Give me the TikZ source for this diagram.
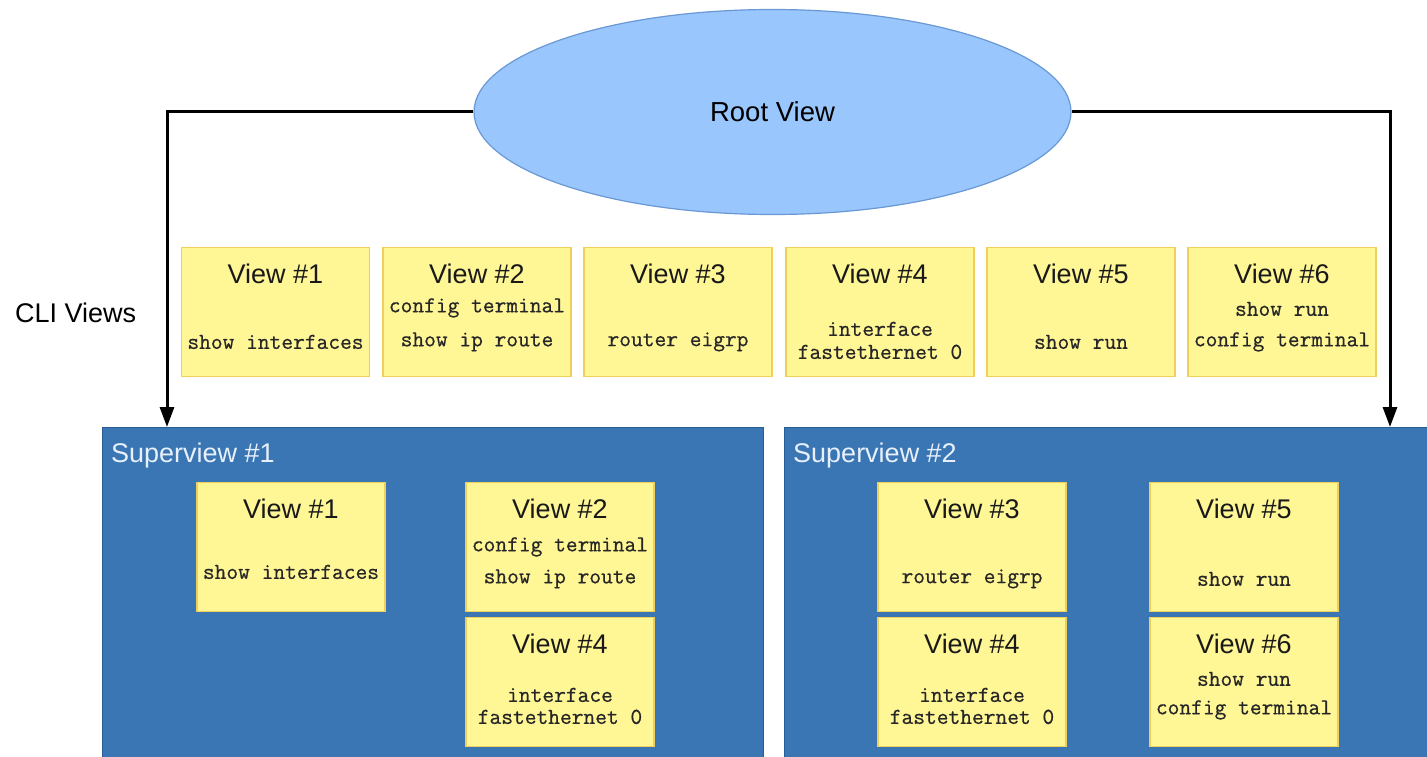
\documentclass[tikz,border=0pt]{standalone}
\usepackage{fontspec}
\setmainfont{Liberation Sans}
\newfontfamily\cmdfont[FakeBold=0.6]{Latin Modern Mono}
\usetikzlibrary{shapes.geometric,arrows.meta,calc}
\definecolor{viewfill}{RGB}{255,246,150}
\definecolor{viewedge}{RGB}{240,208,90}
\definecolor{svfill}{RGB}{58,118,180}
\definecolor{svedge}{RGB}{40,92,148}
\definecolor{rootfill}{RGB}{153,198,252}
\definecolor{rootedge}{RGB}{105,152,212}
\definecolor{svtext}{RGB}{232,240,250}
\tikzset{
  vbox/.style={draw=viewedge, line width=1.2pt, fill=viewfill, minimum width=188pt, minimum height=129pt, inner sep=0pt},
  vtitle/.style={font=\fontsize{27}{30}\selectfont, inner sep=0pt, text=black!90},
  cmd/.style={font=\cmdfont\fontsize{22.8}{25}\selectfont, inner sep=0pt, text=black!85},
  svbox/.style={draw=svedge, line width=1.2pt, fill=svfill, anchor=north west, inner sep=0pt},
  svlabel/.style={font=\fontsize{27}{30}\selectfont, text=svtext, anchor=west, inner sep=0pt},
  link/.style={line width=3pt, -{Triangle[width=14pt,length=20pt]}}
}
\begin{document}
\begin{tikzpicture}[x=1pt,y=-1pt]
\path[use as bounding box] (0,0) rectangle (1427,757);
\clip (0,0) rectangle (1427,757);

% root view
\node[ellipse, draw=rootedge, line width=1.2pt, fill=rootfill, minimum width=597pt, minimum height=205pt, inner sep=0pt,
      font=\fontsize{27.5}{30}\selectfont] (root) at (772.5,112) {Root View};

% superviews
\node[svbox, minimum width=661pt, minimum height=345pt] (sv1) at (102,427) {};
\node[svbox, minimum width=660pt, minimum height=345pt] (sv2) at (784,427) {};
\node[svlabel] (sv1l) at ($(sv1.north west)+(9,29)$) {Superview \#1};
\node[svlabel] (sv2l) at ($(sv2.north west)+(9,29)$) {Superview \#2};

% connectors from the root view down to the superviews
\coordinate (in1) at (167,427);
\coordinate (in2) at (1390,427);
\draw[link] (root.west) -| (in1);
\draw[link] (root.east) -| (in2);

% CLI views row
\node[font=\fontsize{27}{30}\selectfont, anchor=west, inner sep=0pt] (cli) at (15,313) {CLI Views};

\node[vbox] (t1) at (275.5,312) {};
\node[vtitle] (t1t) at ($(t1.north)+(0,27)$) {View \#1};
\node[cmd] (t1a) at ($(t1.north)+(0,95)$) {show interfaces};

\node[vbox] (t2) at (477,312) {};
\node[vtitle] (t2t) at ($(t2.north)+(0,27)$) {View \#2};
\node[cmd] (t2a) at ($(t2.north)+(0,61)$) {config terminal};
\node[cmd] (t2b) at ($(t2.north)+(0,95)$) {show ip route};

\node[vbox] (t3) at (678,312) {};
\node[vtitle] (t3t) at ($(t3.north)+(0,27)$) {View \#3};
\node[cmd] (t3a) at ($(t3.north)+(0,95)$) {router eigrp};

\node[vbox] (t4) at (880,312) {};
\node[vtitle] (t4t) at ($(t4.north)+(0,27)$) {View \#4};
\node[cmd] (t4a) at ($(t4.north)+(0,82)$) {interface};
\node[cmd] (t4b) at ($(t4.north)+(0,105)$) {fastethernet 0};

\node[vbox] (t5) at (1081,312) {};
\node[vtitle] (t5t) at ($(t5.north)+(0,27)$) {View \#5};
\node[cmd] (t5a) at ($(t5.north)+(0,95)$) {show run};

\node[vbox] (t6) at (1282,312) {};
\node[vtitle] (t6t) at ($(t6.north)+(0,27)$) {View \#6};
\node[cmd] (t6a) at ($(t6.north)+(0,62)$) {show run};
\node[cmd] (t6b) at ($(t6.north)+(0,95)$) {config terminal};

% views inside superview #1
\node[vbox] (a1) at (291,547) {};
\node[vtitle] (a1t) at ($(a1.north)+(0,27)$) {View \#1};
\node[cmd] (a1a) at ($(a1.north)+(0,90)$) {show interfaces};

\node[vbox] (a2) at (560,547) {};
\node[vtitle] (a2t) at ($(a2.north)+(0,27)$) {View \#2};
\node[cmd] (a2a) at ($(a2.north)+(0,65)$) {config terminal};
\node[cmd] (a2b) at ($(a2.north)+(0,97)$) {show ip route};

\node[vbox] (a4) at (560,682) {};
\node[vtitle] (a4t) at ($(a4.north)+(0,27)$) {View \#4};
\node[cmd] (a4a) at ($(a4.north)+(0,78)$) {interface};
\node[cmd] (a4b) at ($(a4.north)+(0,100)$) {fastethernet 0};

% views inside superview #2
\node[vbox] (b3) at (972,547) {};
\node[vtitle] (b3t) at ($(b3.north)+(0,27)$) {View \#3};
\node[cmd] (b3a) at ($(b3.north)+(0,97)$) {router eigrp};

\node[vbox] (b5) at (1244,547) {};
\node[vtitle] (b5t) at ($(b5.north)+(0,27)$) {View \#5};
\node[cmd] (b5a) at ($(b5.north)+(0,97)$) {show run};

\node[vbox] (b4) at (972,682) {};
\node[vtitle] (b4t) at ($(b4.north)+(0,27)$) {View \#4};
\node[cmd] (b4a) at ($(b4.north)+(0,78)$) {interface};
\node[cmd] (b4b) at ($(b4.north)+(0,100)$) {fastethernet 0};

\node[vbox] (b6) at (1244,682) {};
\node[vtitle] (b6t) at ($(b6.north)+(0,27)$) {View \#6};
\node[cmd] (b6a) at ($(b6.north)+(0,62)$) {show run};
\node[cmd] (b6b) at ($(b6.north)+(0,93)$) {config terminal};
\end{tikzpicture}
\end{document}
